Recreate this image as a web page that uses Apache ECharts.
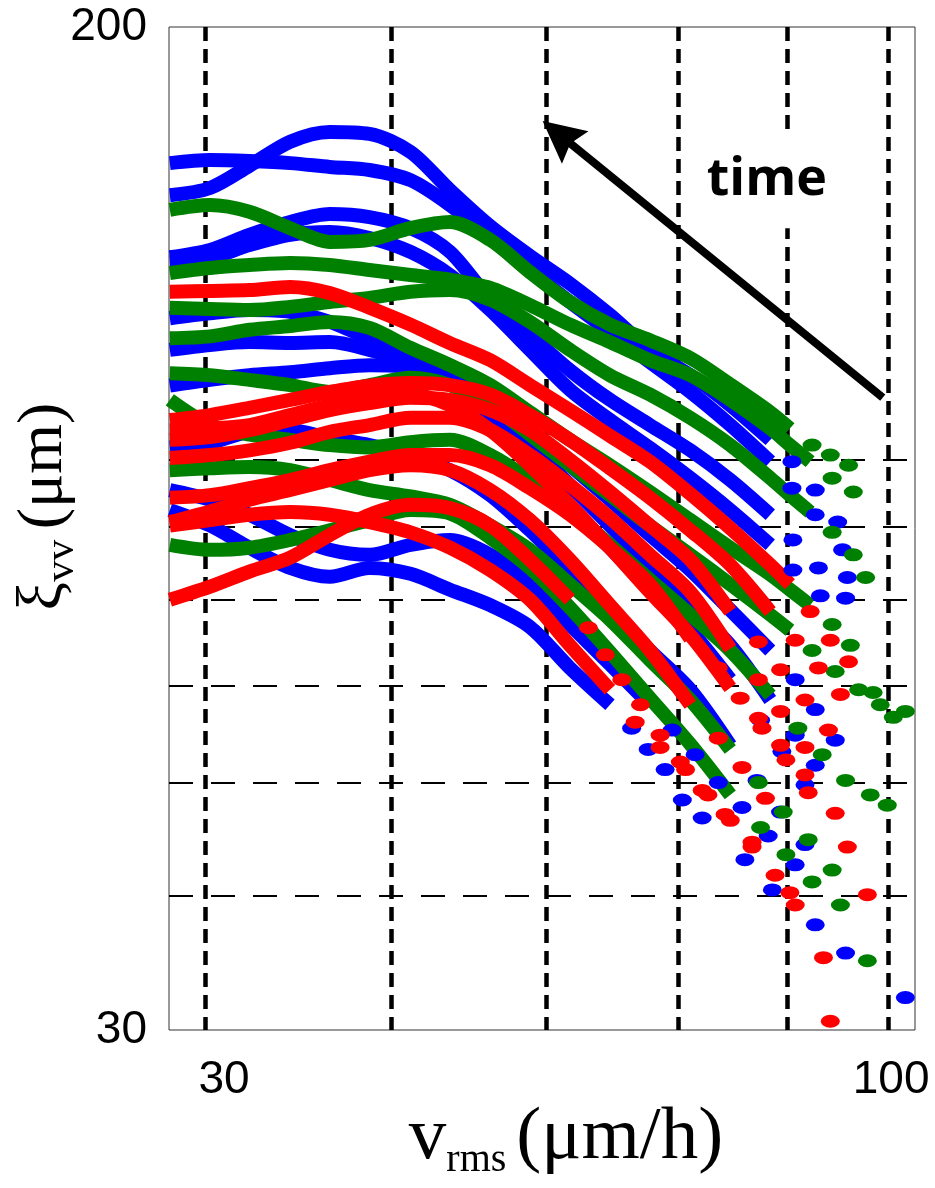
<!DOCTYPE html>
<html>
<head>
<meta charset="utf-8">
<title>xi_vv vs v_rms</title>
<script src="https://cdn.jsdelivr.net/npm/echarts@6.0.0/dist/echarts.min.js"></script>
<style>
  html, body { margin: 0; padding: 0; background: #ffffff; }
  #chart { width: 935px; height: 1188px; }
</style>
</head>
<body>
<div id="chart"></div>
<script>
// ---------------- data (v_rms in µm/h, xi_vv in µm) ----------------
// v_rms positions shared by the dense (solid) part of every curve
const vGrid = [27.2, 29.25, 31.4, 33.8, 36.3, 39.0, 42.0, 45.1, 48.5, 52.1, 56.0, 60.2, 64.7, 69.6, 74.8, 80.4, 83.3, 86.4];

const xTickLabels = [30, 100];
const yTickLabels = [30, 200];
const xGridLines = [29.0, 40.6, 53.7, 68.1, 82.9, 99.5];
const yGridLines = [38.7, 47.9, 57.5, 67.7, 77.7, 88.2];

// blue curves: xi values on vGrid + sparse tail points [v, xi]
const blue1 = [145.5, 147.5, 153.8, 161.0, 164.0, 163.4, 157.9, 146.9, 137.2, 129.7, 123.1, 116.0, 108.6, 103.5, 97.8, 91.6];
const blue1Tail = [[83.6, 87.9], [87.2, 83.3], [90.8, 78.4]];
const blue2 = [154.6, 155.5, 155.2, 154.6, 153.5, 152.6, 149.7, 142.8, 134.2, 126.3, 118.9, 112.4, 106.1, 100.3, 94.2, 87.9];
const blue2Tail = [[83.6, 83.6], [87.2, 79.5], [91.6, 74.4]];
const blue3 = [129.4, 131.2, 135.0, 138.3, 140.4, 139.6, 136.7, 130.7, 119.4, 111.7, 104.5, 98.8, 94.2, 89.8, 84.9, 79.5];
const blue3Tail = [[83.75, 75.8], [87.7, 71.9], [92.1, 67.9]];
const blue10 = [128.2, 129.2, 132.4, 135.0, 135.7, 134.2, 130.7, 125.1, 117.1, 108.6, 100.7, 95.1, 90.2, 85.2, 80.2, 75.1];
const blue10Tail = [[83.75, 71.6], [88.0, 68.2], [92.4, 70.6]];
const blue4 = [115.3, 116.4, 117.1, 116.7, 114.5, 111.0, 108.2, 104.9, 99.8, 93.3, 87.3, 81.8, 76.5, 71.6, 66.4, 61.5];
const blue4Tail = [[84.1, 58.2], [87.2, 55.0], [90.4, 51.9]];
const blue5 = [108.6, 109.6, 110.2, 110.0, 110.2, 108.6, 106.1, 103.5, 97.8, 90.7, 84.1, 77.9, 72.3, 67.0, 62.1, 56.0];
const blue5Tail = [[84.1, 52.4], [87.2, 49.5]];
const blue6 = [101.5, 102.6, 103.5, 104.1, 104.9, 105.5, 105.1, 102.6, 96.0, 88.2, 81.0, 74.7, 69.0, 63.9, 58.2];
const blue6Tail = [[79.0, 53.9], [82.1, 50.8], [85.6, 47.7]];
const blue7 = [90.3, 91.1, 93.0, 93.3, 91.9, 90.7, 89.0, 86.5, 82.5, 77.2, 71.6, 66.4, 61.5, 57.1, 51.4];
const blue7Tail = [[78.5, 48.1], [81.9, 45.3], [85.6, 42.6]];
const blue8 = [80.2, 77.9, 74.7, 71.9, 70.7, 71.9, 71.1, 69.0, 67.0, 64.3, 59.5, 55.5];
const blue8Tail = [[62.6, 53.1], [64.5, 51.0], [66.5, 49.1], [68.6, 46.35], [71.1, 44.8], [76.8, 41.4], [80.7, 39.1], [87.2, 36.6], [92.1, 34.7], [102.6, 31.9]];
const blue9 = [83.3, 81.8, 79.5, 76.5, 74.4, 73.7, 75.1, 75.8, 73.7, 69.7, 64.6, 59.9, 55.5];
const blue9Tail = [[67.35, 52.9], [70.2, 50.5], [73.2, 47.9], [76.4, 45.7], [80.1, 43.3], [84.1, 41.0]];

// green curves
const green1 = [141.5, 142.8, 141.0, 136.7, 133.2, 133.7, 136.7, 138.3, 133.7, 125.8, 118.9, 113.9, 110.6, 106.9, 101.7, 96.5, 93.6];
const green1Tail = [[86.7, 90.7], [89.6, 89.0], [92.6, 87.3]];
const green2 = [125.6, 126.8, 127.5, 128.0, 127.5, 126.3, 125.1, 124.0, 122.1, 118.2, 113.9, 110.2, 106.5, 103.5, 98.8, 93.6, 90.7, 87.9];
const green2Tail = [[89.9, 85.2], [93.4, 83.0]];
const green3 = [117.6, 117.3, 117.1, 117.8, 118.9, 119.8, 121.2, 121.6, 119.4, 114.5, 108.6, 103.5, 99.8, 95.5, 90.7, 85.2, 82.5, 79.9];
const green3Tail = [[89.9, 76.9], [93.4, 73.7], [95.5, 70.6]];
const green4 = [111.0, 111.4, 112.8, 113.6, 114.5, 113.2, 109.0, 105.5, 101.6, 96.5, 91.6, 87.3, 83.0, 78.7, 74.7, 71.0, 69.0, 67.0];
const green4Tail = [[89.9, 64.6], [92.9, 62.1], [96.8, 56.8], [100.4, 54.2]];
const green5 = [103.9, 103.5, 102.6, 101.6, 100.3, 101.6, 103.0, 101.6, 97.8, 92.5, 87.3, 82.5, 77.9, 73.7, 69.7, 65.8, 63.9];
const green5Tail = [[86.7, 61.5], [90.4, 59.1], [94.3, 57.1], [98.05, 55.5], [102.6, 54.8]];
const green6 = [98.8, 94.2, 92.5, 91.6, 90.7, 90.3, 91.2, 91.6, 89.0, 84.9, 80.2, 75.1, 70.3, 65.8, 61.5, 56.5];
const green6Tail = [[84.5, 53.1], [88.3, 50.5], [92.1, 48.1], [96.3, 46.8], [99.3, 45.9]];
const green7 = [86.5, 86.8, 87.0, 86.5, 84.9, 83.3, 82.3, 81.0, 77.9, 74.4, 69.7, 65.2, 60.4, 56.0, 51.0];
const green7Tail = [[78.7, 47.9], [82.3, 45.3], [86.1, 43.0], [89.9, 40.6]];
const green8 = [75.1, 74.4, 74.7, 75.8, 77.2, 78.7, 80.2, 79.7, 76.1, 71.9, 66.7, 61.3, 56.2, 51.5, 46.8];
const green8Tail = [[79.0, 44.0], [82.7, 41.8], [86.7, 39.7], [91.25, 38.0], [95.8, 34.2]];

// red curves
const red1 = [121.2, 121.4, 121.6, 122.3, 120.9, 117.6, 113.9, 110.0, 106.5, 101.6, 96.9, 92.3, 87.9, 82.7, 77.5, 72.3, 69.7];
const red1Tail = [[86.4, 66.2], [89.6, 62.7], [92.6, 60.2]];
const red2 = [95.1, 96.0, 97.3, 98.8, 100.3, 101.5, 102.0, 101.6, 99.8, 96.0, 91.6, 86.8, 82.1, 77.2, 72.3, 66.2];
const red2Tail = [[84.1, 62.7], [87.7, 59.5], [91.25, 56.6]];
const red8 = [93.3, 93.6, 94.2, 96.0, 97.8, 99.2, 99.8, 97.8, 93.3, 87.3, 81.0, 74.7, 68.7, 63.3, 57.3];
const red8Tail = [[78.7, 54.1], [81.9, 51.4], [85.6, 48.6], [90.4, 45.2]];
const red3 = [91.6, 92.1, 93.3, 95.1, 96.9, 98.2, 99.2, 98.8, 96.9, 93.3, 88.2, 83.0, 77.9, 73.0, 66.2];
const red3Tail = [[78.7, 62.5], [81.9, 59.3], [85.6, 56.0], [89.3, 52.9]];
const red4 = [88.5, 89.0, 89.8, 91.1, 93.0, 94.2, 95.5, 95.5, 93.3, 89.0, 84.1, 79.0, 73.7, 68.7, 61.7];
const red4Tail = [[78.7, 58.2], [81.9, 54.8], [85.6, 51.2], [92.4, 42.4]];
const red5 = [82.1, 82.5, 83.6, 84.9, 86.5, 87.9, 89.0, 89.0, 87.3, 83.6, 79.5, 74.7, 69.7, 62.9];
const red5Tail = [[73.2, 59.5], [76.15, 56.2], [79.2, 53.1], [82.7, 50.0], [86.1, 47.0], [95.8, 38.75]];
const red9 = [78.4, 80.0, 81.8, 83.3, 84.9, 86.5, 87.3, 86.5, 83.3, 78.7, 73.0, 67.0, 61.5, 55.5];
const red9Tail = [[73.2, 52.1], [76.4, 49.3], [79.7, 46.5]];
const red6 = [77.9, 78.7, 79.5, 79.9, 79.5, 78.4, 76.9, 74.7, 71.6, 67.7, 62.1, 57.1];
const red6Tail = [[63.0, 53.7], [65.9, 51.2], [69.0, 49.1], [71.85, 46.8], [74.8, 44.6], [77.8, 42.4], [81.1, 40.2], [84.1, 38.0], [88.5, 34.4]];
const red7 = [67.7, 69.4, 71.4, 73.3, 76.5, 79.5, 81.0, 80.5, 77.9, 73.0, 67.7];
const red7Tail = [[57.9, 64.2], [59.7, 61.0], [61.5, 58.2], [63.6, 55.5], [65.9, 52.4], [68.35, 49.8], [71.1, 47.2], [74.1, 45.1], [77.8, 42.8], [83.3, 38.9], [89.6, 30.5]];

// annotation: arrow (tail -> head) and the "time" label, in data units
const arrowFrom = [98.5, 99.2];
const arrowTo = [54.9, 163.3];
const timeLabelPos = [79.9, 149.7];

// ---------------- chart ----------------
const BLUE = '#0000ff', GREEN = '#008000', RED = '#ff0000';
const curveList = [
  [blue1, blue1Tail, BLUE], [blue2, blue2Tail, BLUE], [blue3, blue3Tail, BLUE], [blue10, blue10Tail, BLUE],
  [blue4, blue4Tail, BLUE], [blue5, blue5Tail, BLUE], [blue6, blue6Tail, BLUE], [blue7, blue7Tail, BLUE],
  [blue8, blue8Tail, BLUE], [blue9, blue9Tail, BLUE],
  [green1, green1Tail, GREEN], [green2, green2Tail, GREEN], [green3, green3Tail, GREEN], [green4, green4Tail, GREEN],
  [green5, green5Tail, GREEN], [green6, green6Tail, GREEN], [green7, green7Tail, GREEN], [green8, green8Tail, GREEN],
  [red1, red1Tail, RED], [red2, red2Tail, RED], [red8, red8Tail, RED], [red3, red3Tail, RED], [red4, red4Tail, RED],
  [red5, red5Tail, RED], [red9, red9Tail, RED], [red6, red6Tail, RED], [red7, red7Tail, RED]
];

const series = [];
curveList.forEach(([vals, tail, color]) => {
  series.push({
    type: 'line',
    data: vals.map((y, i) => [vGrid[i], y]),
    smooth: 0.3,
    showSymbol: false,
    symbol: 'none',
    lineStyle: { width: 14, color: color, cap: 'butt', join: 'round', opacity: 1 },
    silent: true, animation: false, z: 2
  });
  series.push({
    type: 'scatter',
    data: tail,
    symbol: 'circle',
    symbolSize: [19, 13],
    itemStyle: { color: color, opacity: 1 },
    silent: true, animation: false, z: 2
  });
});

series.push({
  type: 'lines',
  coordinateSystem: 'cartesian2d',
  polyline: false,
  data: [{ coords: [arrowFrom, arrowTo] }],
  symbol: ['none', 'path://M0,0 L20,40 L0,34 L-20,40 Z'],
  symbolSize: 42,
  lineStyle: { color: '#000', width: 8, opacity: 1, curveness: 0 },
  itemStyle: { color: '#000', opacity: 1 },
  silent: true, animation: false, z: 6
});

series.push({
  type: 'scatter',
  data: [timeLabelPos],
  symbol: 'rect',
  symbolSize: 0,
  itemStyle: { color: '#fff', opacity: 1 },
  label: {
    show: true, position: 'inside', formatter: 'time', opacity: 1,
    fontFamily: 'Open Sans', fontWeight: 'bold', fontSize: 52, lineHeight: 52,
    color: '#000', backgroundColor: '#fff', padding: [22, 14, 22, 14]
  },
  silent: true, animation: false, z: 10
});

const chart = echarts.init(document.getElementById('chart'), null, { renderer: 'canvas' });
chart.setOption({
  animation: false,
  backgroundColor: '#fff',
  grid: {
    left: 169, right: 20, top: 27, bottom: 158,
    show: true, borderColor: '#333', borderWidth: 1, backgroundColor: 'transparent',
    containLabel: false, outerBoundsMode: 'none'
  },
  xAxis: {
    type: 'log', logBase: 10, min: 27.16, max: 104.4,
    axisLine: { show: false },
    axisTick: { show: false, customValues: xGridLines },
    splitLine: { show: true, lineStyle: { color: '#000', width: 4.5, type: [14, 8] } },
    axisLabel: {
      customValues: xTickLabels, formatter: v => String(Math.round(v)),
      fontFamily: 'Liberation Sans', fontSize: 46, color: '#000', margin: 27
    },
    name: '{i|v}{s|rms }{n|(μm/h)}',
    nameLocation: 'middle', nameGap: 66, nameMoveOverlap: false,
    nameTextStyle: {
      color: '#000', fontFamily: 'Liberation Serif', fontSize: 75, padding: [0, 0, 0, 48],
      rich: {
        i: { fontFamily: 'Liberation Serif', fontSize: 75, color: '#000' },
        s: { fontFamily: 'Liberation Serif', fontSize: 40, color: '#000', padding: [44, 0, 0, 0] },
        n: { fontFamily: 'Liberation Serif', fontSize: 75, color: '#000' }
      }
    }
  },
  yAxis: {
    type: 'log', logBase: 10, min: 30, max: 200,
    axisLine: { show: false },
    axisTick: { show: false, customValues: yGridLines },
    splitLine: { show: true, lineStyle: { color: '#000', width: 2, type: [24, 18] } },
    axisLabel: {
      customValues: yTickLabels, formatter: v => String(Math.round(v)),
      fontFamily: 'Liberation Sans', fontSize: 46, color: '#000', margin: 22
    },
    name: '{i|ξ}{s|vv }{n|(μm)}',
    nameLocation: 'middle', nameGap: 86, nameRotate: 90, nameMoveOverlap: false,
    nameTextStyle: {
      color: '#000', fontFamily: 'Liberation Serif', fontSize: 64, padding: [0, 0, 0, 44],
      rich: {
        i: { fontFamily: 'Liberation Serif', fontSize: 64, color: '#000' },
        s: { fontFamily: 'Liberation Serif', fontSize: 42, color: '#000', padding: [36, 0, 0, 0] },
        n: { fontFamily: 'Liberation Serif', fontSize: 64, color: '#000' }
      }
    }
  },
  series: series
});
</script>
</body>
</html>
